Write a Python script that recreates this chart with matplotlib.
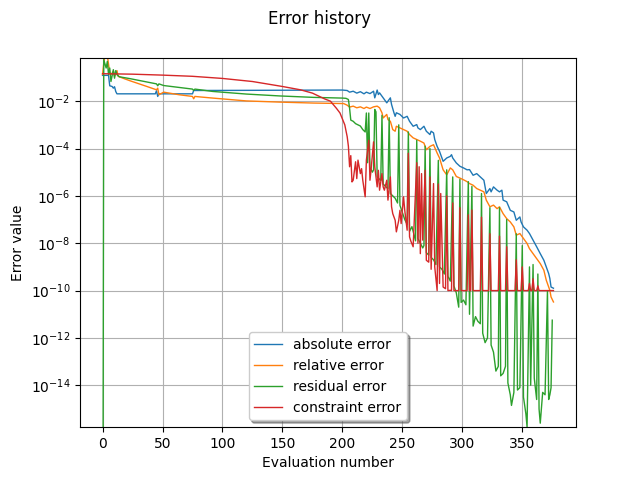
import numpy as np
import matplotlib
matplotlib.use('Agg')
from matplotlib import pyplot as plt

# evaluation numbers and log10 of the error values
abs_eval = [0, 5, 6, 8, 9, 10, 11, 12, 44, 45, 46, 47, 75, 76, 200,
            204, 206, 209, 212, 215, 218, 220, 223, 226, 227, 229, 230, 231, 234, 237, 240,
            241, 243, 244, 245, 248, 251, 254, 256, 259, 262, 263, 265, 268, 270,
            273, 274, 276, 277, 279, 281, 284, 287, 290, 291, 292, 295, 298, 301, 304,
            306, 309, 312, 315, 318, 320, 323, 324, 326, 329, 331, 333, 334, 337, 340, 343,
            345, 348, 349, 351, 354, 356, 359, 362, 365, 368, 370, 372, 373, 374, 376]
abs_log = [-0.91, -0.91, -1.35, -1.38, -1.45, -1.39, -1.59, -1.69, -1.69, -1.56, -1.80, -1.69, -1.69, -1.55, -1.53,
           -1.55, -1.62, -1.58, -1.66, -1.60, -1.69, -1.62, -1.68, -1.58, -1.86, -1.53, -1.72, -1.65, -1.86, -2.07, -1.86,
           -2.14, -2.49, -2.64, -2.49, -2.56, -2.71, -2.64, -2.85, -3.06, -2.99, -3.13, -3.20, -3.06, -3.27,
           -3.41, -3.27, -3.34, -3.62, -3.91, -4.12, -4.54, -4.40, -4.33, -4.26, -4.40, -4.61, -4.75, -4.82, -4.90,
           -4.89, -5.13, -5.06, -5.20, -5.34, -5.90, -5.69, -5.83, -5.62, -5.76, -5.83, -5.76, -6.18, -6.25, -6.61, -6.68,
           -7.03, -6.89, -7.10, -7.31, -7.45, -7.59, -7.87, -8.15, -8.44, -8.72, -9.00, -9.28, -9.49, -9.85, -9.90]

rel_eval = [0, 1, 3, 6, 7, 9, 10, 12, 13, 17, 23, 37, 45, 46, 47, 51, 64, 75, 76, 77, 81, 92, 120, 148, 176, 200,
            201, 204, 206, 209, 212, 215, 218, 220, 223, 226, 229, 231, 233, 234, 237, 238, 240, 242, 244, 245,
            248, 251, 254, 256, 259, 262, 265, 268, 270, 273, 276, 279, 281, 284, 287, 290, 292, 295, 298, 301, 304,
            306, 309, 312, 315, 318, 320, 323, 326, 329, 331, 334, 337, 340, 343, 345, 348, 351, 354, 356, 359, 362,
            365, 368, 370, 373, 374, 376]
rel_log = [-0.87, -0.4, 0.3, -0.81, -0.88, -0.74, -0.95, -0.71, -0.95, -1.03, -1.14, -1.38, -1.52, -1.45, -1.73,
           -1.62, -1.73, -1.80, -1.90, -1.80, -1.82, -1.87, -1.99, -2.04, -2.08, -2.10,
           -2.10, -2.17, -2.25, -2.21, -2.28, -2.24, -2.31, -2.25, -2.31, -2.24, -2.21, -2.28, -2.49, -2.71, -2.56,
           -2.78, -2.85, -3.20, -3.27, -3.06, -3.13, -3.20, -3.27, -3.41, -3.55, -3.62, -3.69, -3.77, -4.05, -3.91,
           -3.84, -4.19, -4.40, -4.90, -5.11, -4.82, -4.90, -5.18, -5.25, -5.32, -5.40,
           -5.48, -5.55, -5.69, -5.76, -5.83, -6.18, -6.46, -6.39, -6.54, -6.46, -6.75, -6.96, -7.10, -7.31, -7.66,
           -7.59, -7.80, -8.01, -8.23, -8.44, -8.65, -8.86, -9.14, -9.56, -9.99, -10.27, -10.48]

res_eval = [0, 1, 3, 4, 5, 6, 7, 9, 10, 11, 12, 14, 23, 37, 45, 46, 47, 51, 64, 75, 76, 77, 92, 120, 148, 176, 200,
            203, 205, 206, 207, 209, 211, 213, 215, 217, 219, 220, 221, 222, 223, 225, 226, 227, 228, 229, 231, 232,
            233, 234, 236, 238, 239, 240, 242, 244, 246, 247, 248, 250, 252, 254, 255, 256, 258, 260, 261, 262, 263,
            265, 267, 268, 269, 270, 272, 273, 274, 276, 278, 280, 281, 283, 285, 287, 288, 290, 292, 293, 295, 297,
            298, 299, 301, 303, 305, 306, 308, 309, 311, 313, 315, 316, 317, 319, 321, 323, 324, 326, 328, 330, 331,
            332, 334, 336, 337, 338, 340, 341, 343, 345, 346, 348, 350, 351, 353, 354, 356, 357, 359, 360, 362, 363,
            364, 365, 367, 369, 371, 372, 373, 374, 375]
res_log = [-30, -0.25, -0.60, -0.32, -0.88, -0.60, -1.17, -0.67, -1.03, -0.71, -0.88, -0.97, -1.05, -1.19, -1.27,
           -1.35, -1.27, -1.34, -1.42, -1.49, -1.55, -1.49, -1.59, -1.70, -1.78, -1.84, -1.87,
           -1.88, -1.93, -2.3, -2.8, -2.85, -2.95, -3.0, -3.05, -3.2, -3.3, -2.5, -4.6, -2.5, -4.8, -5.0, -4.9,
           -2.35, -2.45, -5.2, -5.3, -5.35, -2.6, -5.5, -5.6, -5.7, -2.7, -5.9, -6.0, -6.1, -6.3, -3.0, -6.4, -6.7,
           -7.0, -7.2, -3.3, -7.5, -7.3, -7.7, -7.9, -3.65, -7.8, -8.0, -8.2, -8.1, -3.9, -8.4, -8.5, -4.0, -8.6,
           -8.7, -8.9, -4.5, -9.0, -9.1, -9.3, -4.9, -9.4, -9.6, -5.2, -9.8, -10.1, -10.7, -5.3, -10.5, -10.4, -10.6,
           -5.4, -11.0, -5.6, -11.5, -11.1, -11.3, -11.4, -5.9, -11.8, -12.2, -12.0, -6.5, -12.3, -12.6, -13.4,
           -13.2, -6.5, -13.6, -13.5, -13.2, -7.0, -13.9, -14.4, -14.85, -14.3, -7.6, -14.2, -14.1, -8.1, -14.5,
           -15.2, -15.76, -9.0, -14.0, -8.9, -13.7, -14.6, -9.3, -15.0, -15.6, -14.3, -14.4, -10.0, -14.6, -14.4,
           -14.1, -11.25]

con_eval = [0, 25, 50, 75, 100, 125, 150, 165, 175, 185, 190, 195, 198, 200, 202, 204, 205, 206, 207, 208, 209,
            211, 212, 213, 215, 216, 217, 219, 220, 222, 223, 224, 226, 227, 229, 230, 231, 233, 234, 235, 237, 238,
            240, 241, 242, 244, 245, 247, 248, 249, 251, 252, 254, 255, 256, 257, 259, 262, 263, 264, 265, 266, 267,
            269, 270, 272, 273, 274, 276, 277, 279, 280, 281, 282, 284, 286, 287, 288, 290, 291, 292, 293, 295,
            297, 298, 299, 304, 305, 306, 307, 308, 309, 315, 316, 317, 322, 323, 324, 330, 331, 332, 336, 337, 338,
            344, 345, 346, 349, 350, 351, 355, 356, 357, 358, 359, 360, 362, 363, 364, 376]
con_log = [-0.84, -0.86, -0.90, -0.95, -1.04, -1.17, -1.38, -1.52, -1.66, -1.90, -2.0, -2.3, -2.5, -2.75, -3.0,
           -3.5, -3.9, -4.77, -4.3, -5.41, -5.34, -4.56, -5.27, -4.49, -5.06, -4.85, -5.34, -6.04, -4.49, -3.65,
           -5.34, -4.85, -3.72, -4.77, -5.62, -4.92, -5.76, -5.06, -5.62, -5.76, -5.34, -6.18, -5.20, -6.46, -6.75,
           -7.03, -7.52, -7.03, -6.61, -7.17, -6.04, -6.61, -7.45, -4.2, -7.73, -7.9, -8.15, -4.6, -8.0, -4.77,
           -8.44, -5.06, -7.87, -4.92, -8.72, -8.8, -5.2, -9.1, -5.48, -9.0, -10.0, -5.5, -9.7, -5.9, -9.85, -9.92,
           -6.0, -10.0, -9.99, -10.0, -6.3, -10.0, -10.0, -10.0, -6.5, -10.0, -10.0, -6.8, -10.0, -10.0, -6.6, -10.0,
           -10.0, -6.9, -10.0, -10.0, -7.6, -10.0, -10.0, -7.7, -10.0, -10.0, -8.15, -10.0, -10.0, -8.7, -10.0,
           -10.0, -9.0, -10.0, -10.0, -9.7, -10.0, -10.0, -9.5, -10.0, -10.0, -9.8, -10.0, -10.0]

fig, ax = plt.subplots(figsize=(6.4, 4.8), dpi=100)
fig.suptitle('Error history')

ax.semilogy(abs_eval, 10.0 ** np.array(abs_log), lw=1, label='absolute error')
ax.semilogy(rel_eval, 10.0 ** np.array(rel_log), lw=1, label='relative error')
ax.semilogy(res_eval, 10.0 ** np.array(res_log), lw=1, label='residual error')
ax.semilogy(con_eval, 10.0 ** np.array(con_log), lw=1, label='constraint error')

ax.set_xlim(-18.8, 394.8)
ax.set_ylim(10 ** -15.77, 10 ** -0.16)
ax.set_xlabel('Evaluation number')
ax.set_ylabel('Error value')
ax.grid(True)
ax.legend(loc='lower center', shadow=True)

fig.savefig('out.png')
